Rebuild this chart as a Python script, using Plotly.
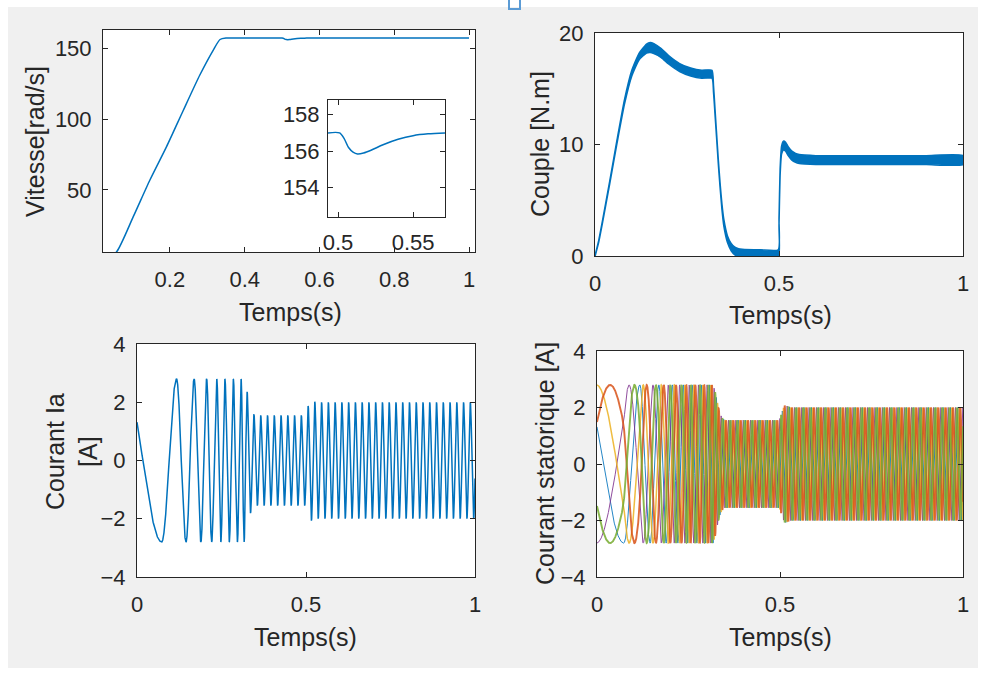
import numpy as np
import plotly.graph_objects as go

FIG_W, FIG_H = 990, 675
BLUE, ORANGE, YELLOW, PURPLE, GREEN = "#0072BD", "#D95319", "#EDB120", "#7E2F8E", "#77AC30"
TXT = "#262626"
FONT = "Liberation Sans, Arial, Helvetica, sans-serif"

# ---- Vitesse du rotor [rad/s]
speed_t = [0.0, 0.03, 0.0575, 0.102, 0.1465, 0.191, 0.2356, 0.280, 0.316, 0.334,
           0.350, 0.360, 0.500, 0.503, 0.507, 0.511, 0.515, 0.520, 0.530, 0.540,
           0.550, 0.560, 0.570, 0.600, 1.0]
speed_v = [0.0, 2.0, 6.5, 31.2, 57.0, 80.5, 106.0, 131.0, 148.6, 156.0,
           157.0, 157.0, 157.0, 156.9, 156.3, 155.95, 155.85, 155.95, 156.35, 156.65,
           156.85, 156.95, 157.0, 157.0, 157.0]

# ---- Zoom sur l'application de la charge
zoom_t = [0.4933, 0.501, 0.504, 0.507, 0.510, 0.513, 0.517, 0.522, 0.530, 0.540,
          0.550, 0.560, 0.5713]
zoom_v = [157.0, 157.0, 156.7, 156.2, 155.95, 155.85, 155.9, 156.05, 156.35, 156.65,
          156.85, 156.95, 157.0]

# ---- Couple électromagnétique [N.m] : valeur moyenne et demi-largeur d'ondulation
torque_t = [0.0, 0.01, 0.02, 0.04, 0.06, 0.08, 0.10, 0.12, 0.14, 0.15,
            0.16, 0.18, 0.20, 0.23, 0.26, 0.29, 0.318, 0.322, 0.326, 0.330,
            0.335, 0.340, 0.345, 0.350, 0.360, 0.370, 0.380, 0.390, 0.400, 0.450,
            0.498, 0.500, 0.503, 0.507, 0.512, 0.518, 0.525, 0.535, 0.545, 0.555,
            0.570, 0.600, 0.700, 0.800, 0.900, 1.0]
torque_mean = [0.0, 1.3, 3.0, 6.6, 10.3, 13.8, 16.4, 17.9, 18.6, 18.7,
               18.6, 18.2, 17.6, 16.9, 16.5, 16.3, 16.3, 15.0, 13.0, 11.0,
               8.5, 6.3, 4.4, 3.0, 1.5, 0.8, 0.45, 0.3, 0.25, 0.2,
               0.2, 3.0, 7.5, 9.5, 9.9, 9.8, 9.4, 9.0, 8.8, 8.7,
               8.65, 8.6, 8.6, 8.6, 8.6, 8.6]
torque_ripple = [0.05, 0.08, 0.1, 0.12, 0.15, 0.2, 0.25, 0.3, 0.4, 0.45,
                 0.45, 0.4, 0.38, 0.36, 0.36, 0.36, 0.36, 0.3, 0.25, 0.2,
                 0.2, 0.2, 0.25, 0.3, 0.3, 0.33, 0.35, 0.35, 0.35, 0.35,
                 0.35, 0.3, 0.3, 0.35, 0.4, 0.4, 0.4, 0.4, 0.4, 0.4,
                 0.4, 0.4, 0.4, 0.4, 0.4, 0.4]

# ---- Courant statorique Ia [A]
# instants des extrema successifs (creux, crête, creux, ...) pendant le démarrage
ia_ext_t = [0.073, 0.117, 0.145, 0.169, 0.189, 0.206, 0.221, 0.236, 0.248, 0.260,
            0.273, 0.285, 0.297, 0.308, 0.317, 0.326, 0.336]
ia_phase0_deg = 152.0     # phase à t = 0 (Ia = 1.3 A, décroissant)
f_grid = 50.0             # fréquence statorique en régime établi [Hz]
# enveloppe (amplitude crête) des courants
env_t = [0.0, 0.317, 0.322, 0.326, 0.331, 0.336, 0.342, 0.350, 0.498, 0.503,
         0.508, 0.513, 0.520, 0.530, 1.0]
env_a = [2.8, 2.8, 2.6, 2.35, 2.05, 1.8, 1.62, 1.55, 1.55, 1.75,
         1.95, 2.08, 2.05, 2.0, 2.0]
# courbes de la figure "Courant statorique" (ordre de tracé, déphasage, couleur, épaisseur)
stator_offsets_deg = [0, 120, -60, -120, 60]
stator_colors = [BLUE, PURPLE, YELLOW, ORANGE, GREEN]
stator_widths = [1.0, 1.0, 1.5, 1.9, 1.9]

# ---- ticks
speed_ticks = [50, 100, 150]
time_ticks_a = [0.2, 0.4, 0.6, 0.8, 1.0]
time_ticks_a_txt = ["0.2", "0.4", "0.6", "0.8", "1"]
time_ticks_b = [0, 0.5, 1.0]
time_ticks_b_txt = ["0", "0.5", "1"]
zoom_xticks = [0.5, 0.55]
zoom_xticks_txt = ["0.5", "0.55"]
zoom_yticks = [154, 156, 158]
torque_ticks = [0, 10, 20]
current_ticks = [-4, -2, 0, 2, 4]

# ---- waveform reconstruction from extrema times and envelope
t = np.linspace(0.0, 1.0, 12001)
knot_t = [0.0] + ia_ext_t
knot_ph = [ia_phase0_deg] + [270.0 + 180.0 * k for k in range(len(ia_ext_t))]
theta = np.interp(t, knot_t, knot_ph)
late = t > knot_t[-1]
theta[late] = knot_ph[-1] + 360.0 * f_grid * (t[late] - knot_t[-1])
amp = np.interp(t, env_t, env_a)
ia = amp * np.sin(np.radians(theta))

fig = go.Figure()

# Vitesse
fig.add_trace(go.Scatter(x=speed_t, y=speed_v, mode="lines", line=dict(color=BLUE, width=1.5, shape="spline", smoothing=0.6),
                         xaxis="x", yaxis="y", showlegend=False))
fig.add_trace(go.Scatter(x=zoom_t, y=zoom_v, mode="lines", line=dict(color=BLUE, width=1.5, shape="spline", smoothing=0.8),
                         xaxis="x5", yaxis="y5", showlegend=False))

# Couple (bande d'ondulation)
up = [m + r for m, r in zip(torque_mean, torque_ripple)]
lo = [m - r for m, r in zip(torque_mean, torque_ripple)]
fig.add_trace(go.Scatter(x=torque_t + torque_t[::-1], y=up + lo[::-1], mode="lines", fill="toself",
                         fillcolor=BLUE, line=dict(color=BLUE, width=1.5, shape="spline", smoothing=0.5),
                         xaxis="x2", yaxis="y2", showlegend=False))

# Courant Ia
fig.add_trace(go.Scatter(x=t, y=ia, mode="lines", line=dict(color=BLUE, width=1.5),
                         xaxis="x3", yaxis="y3", showlegend=False))

# Courants statoriques
for off, col, w in zip(stator_offsets_deg, stator_colors, stator_widths):
    fig.add_trace(go.Scatter(x=t, y=amp * np.sin(np.radians(theta + off)), mode="lines", opacity=0.85,
                             line=dict(color=col, width=w), xaxis="x4", yaxis="y4", showlegend=False))


def px_x(a, b):
    return [a / FIG_W, b / FIG_W]


def px_y(top, bottom):
    return [1 - bottom / FIG_H, 1 - top / FIG_H]


axis_style = dict(showline=True, linecolor=TXT, linewidth=1, mirror="ticks", ticks="inside", ticklen=5,
                  tickcolor=TXT, tickwidth=1, showgrid=False, zeroline=False, automargin=False,
                  tickfont=dict(family=FONT, size=22, color=TXT))

fig.update_layout(
    width=FIG_W, height=FIG_H, autosize=False,
    margin=dict(l=0, r=0, t=0, b=0, pad=0),
    paper_bgcolor="#f0f0f0", plot_bgcolor="white",
    xaxis=dict(domain=px_x(103, 475), range=[0.021, 1.016], tickvals=time_ticks_a, ticktext=time_ticks_a_txt,
               anchor="y", ticklabelstandoff=8, **axis_style),
    yaxis=dict(domain=px_y(30, 252), range=[6.3, 162.7], tickvals=speed_ticks, anchor="x",
               ticklabelstandoff=6, **axis_style),
    xaxis2=dict(domain=px_x(595, 963), range=[0, 1], tickvals=time_ticks_b, ticktext=time_ticks_b_txt,
                anchor="y2", ticklabelstandoff=8, **axis_style),
    yaxis2=dict(domain=px_y(33, 256), range=[0, 20], tickvals=torque_ticks, anchor="x2",
                ticklabelstandoff=6, **axis_style),
    xaxis3=dict(domain=px_x(137, 475), range=[0, 1], tickvals=time_ticks_b, ticktext=time_ticks_b_txt,
                anchor="y3", ticklabelstandoff=8, **axis_style),
    yaxis3=dict(domain=px_y(344, 577), range=[-4, 4], tickvals=current_ticks, anchor="x3",
                ticklabelstandoff=6, **axis_style),
    xaxis4=dict(domain=px_x(597, 963), range=[0, 1], tickvals=time_ticks_b, ticktext=time_ticks_b_txt,
                anchor="y4", ticklabelstandoff=8, **axis_style),
    yaxis4=dict(domain=px_y(351, 577), range=[-4, 4], tickvals=current_ticks, anchor="x4",
                ticklabelstandoff=6, **axis_style),
    xaxis5=dict(domain=px_x(328, 445), range=[0.4933, 0.5713], tickvals=zoom_xticks, ticktext=zoom_xticks_txt,
                anchor="y5", ticklabelstandoff=6, **axis_style),
    yaxis5=dict(domain=px_y(100, 217), range=[152.4, 158.8], tickvals=zoom_yticks, anchor="x5",
                ticklabelstandoff=3, **axis_style),
)

# white frame around the figure window
for x0, y0, x1, y1 in [(0, 0, 8, FIG_H), (0, 0, FIG_W, 7), (978, 0, FIG_W, FIG_H), (0, 668, FIG_W, FIG_H)]:
    fig.add_shape(type="rect", xref="paper", yref="paper", x0=x0 / FIG_W, x1=x1 / FIG_W,
                  y0=1 - y1 / FIG_H, y1=1 - y0 / FIG_H, fillcolor="white", line_width=0, layer="below")

# small toolbar button peeking above the window
fig.add_shape(type="rect", xref="paper", yref="paper", x0=509 / FIG_W, x1=520 / FIG_W,
              y0=1 - 9 / FIG_H, y1=1 + 2 / FIG_H, fillcolor="rgba(0,0,0,0)",
              line=dict(color="#5b9bd5", width=2))

# axis titles
labels = [
    ("Vitesse[rad/s]", 35, 142, -90),
    ("Temps(s)", 290, 312, 0),
    ("Couple [N.m]", 540, 144, -90),
    ("Temps(s)", 780, 315, 0),
    ("Courant Ia<br>[A]", 72, 452, -90),
    ("Temps(s)", 305, 637, 0),
    ("Courant statorique [A]", 545, 464, -90),
    ("Temps(s)", 780, 637, 0),
]
for text, cx, cy, ang in labels:
    fig.add_annotation(text=text, x=cx / FIG_W, y=1 - cy / FIG_H, xref="paper", yref="paper",
                       showarrow=False, textangle=ang, xanchor="center", yanchor="middle",
                       font=dict(family=FONT, size=25, color=TXT))

fig.write_html("out.html")
